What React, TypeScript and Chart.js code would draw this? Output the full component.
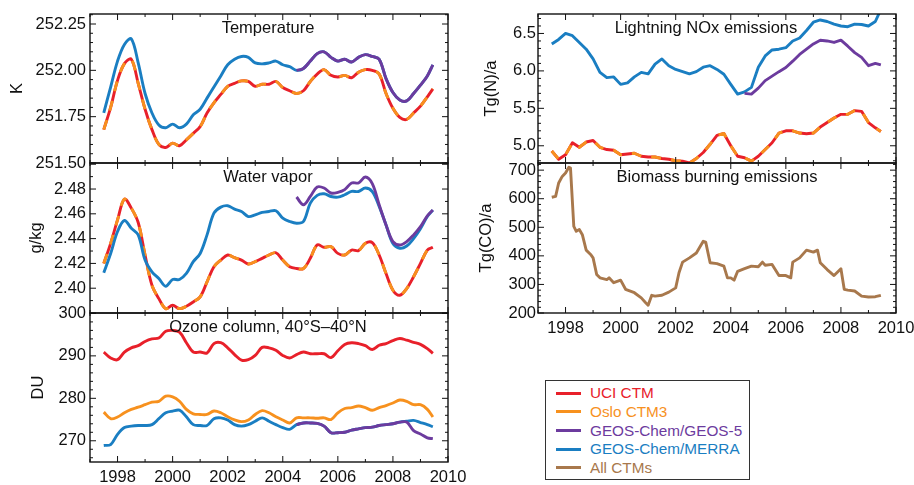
import React, { useEffect, useRef } from "react";
import { Chart, registerables } from "chart.js";

Chart.register(...registerables);

const FONT = '"Liberation Sans", Arial, Helvetica, sans-serif';
Chart.defaults.font.family = FONT;
Chart.defaults.color = "#111";

// ---------------- data ----------------
const years = [
  1997.5, 1997.75, 1998, 1998.25, 1998.5, 1998.75, 1999, 1999.25, 1999.5, 1999.75,
  2000, 2000.25, 2000.5, 2000.75, 2001, 2001.25, 2001.5, 2001.75, 2002, 2002.25,
  2002.5, 2002.75, 2003, 2003.25, 2003.5, 2003.75, 2004, 2004.25, 2004.5, 2004.75,
  2005, 2005.25, 2005.5, 2005.75, 2006, 2006.25, 2006.5, 2006.75, 2007, 2007.25,
  2007.5, 2007.75, 2008, 2008.25, 2008.5, 2008.75, 2009, 2009.25, 2009.45,
];

const N = null;
const pre = [N, N, N, N, N, N, N, N, N, N, N, N, N, N, N, N, N, N, N, N, N, N, N, N, N, N, N, N];

const tempUCI = [
  251.68, 251.8, 251.946, 252.036, 252.06, 251.93, 251.79, 251.68, 251.6, 251.584,
  251.607, 251.593, 251.625, 251.66, 251.696, 251.77, 251.825, 251.87, 251.914, 251.93,
  251.943, 251.94, 251.914, 251.925, 251.925, 251.94, 251.907, 251.89, 251.875, 251.89,
  251.94, 251.98, 252.004, 251.973, 251.964, 251.973, 251.96, 251.99, 252.004, 252.0,
  251.98, 251.875, 251.795, 251.746, 251.735, 251.77, 251.807, 251.857, 251.9,
];
const tempOslo = [
  251.68, 251.8, 251.946, 252.036, 252.06, 251.93, 251.79, 251.68, 251.6, 251.584,
  251.607, 251.593, 251.625, 251.66, 251.696, 251.77, 251.825, 251.87, 251.914, 251.93,
  251.943, 251.94, 251.914, 251.925, 251.925, 251.94, 251.907, 251.89, 251.875, 251.89,
  251.94, 251.98, 252.004, 251.973, 251.964, 251.973, 251.96, 251.99, 252.004, 252.0,
  251.98, 251.875, 251.795, 251.746, 251.735, 251.77, 251.807, 251.857, 251.9,
];
const tempMERRA = [
  251.77, 251.91, 252.05, 252.14, 252.17, 252.04, 251.875, 251.77, 251.705, 251.69,
  251.71, 251.69, 251.71, 251.76, 251.79, 251.85, 251.91, 251.97, 252.03, 252.06,
  252.075, 252.07, 252.04, 252.035, 252.04, 252.05, 252.03, 252.02, 252.0, 252.01,
  252.05, 252.09, 252.1, 252.07, 252.05, 252.06, 252.045, 252.07, 252.085, 252.075,
  252.06, 251.955, 251.88, 251.84, 251.835, 251.875, 251.92, 251.97, 252.03,
];
const tempGEOS5 = [
  ...pre,
  252.0, 252.01, 252.05, 252.09, 252.1, 252.07, 252.05, 252.06, 252.045, 252.07,
  252.085, 252.075, 252.06, 251.955, 251.88, 251.84, 251.835, 251.875, 251.92, 251.97, 252.03,
];

const wvUCI = [
  2.42, 2.4362, 2.4551, 2.4719, 2.4646, 2.453, 2.4268, 2.4024, 2.3916, 2.3835,
  2.3862, 2.3835, 2.3854, 2.3889, 2.393, 2.4051, 2.4173, 2.4227, 2.4268, 2.4246,
  2.4227, 2.4195, 2.4214, 2.4241, 2.4268, 2.4286, 2.4227, 2.4173, 2.4159, 2.4159,
  2.4241, 2.4349, 2.433, 2.4335, 2.4281, 2.4268, 2.4308, 2.4303, 2.4362, 2.4368,
  2.4268, 2.4119, 2.3984, 2.3943, 2.3997, 2.4092, 2.42, 2.4308, 2.433,
];
const wvOslo = [
  2.42, 2.4362, 2.4551, 2.4719, 2.4646, 2.453, 2.4268, 2.4024, 2.3916, 2.3835,
  2.3862, 2.3835, 2.3854, 2.3889, 2.393, 2.4051, 2.4173, 2.4227, 2.4268, 2.4246,
  2.4227, 2.4195, 2.4214, 2.4241, 2.4268, 2.4286, 2.4227, 2.4173, 2.4159, 2.4159,
  2.4241, 2.4349, 2.433, 2.4335, 2.4281, 2.4268, 2.4308, 2.4303, 2.4362, 2.4368,
  2.4268, 2.4119, 2.3984, 2.3943, 2.3997, 2.4092, 2.42, 2.4308, 2.433,
];
const wvMERRA = [
  2.4124, 2.428, 2.4457, 2.4546, 2.4484, 2.443, 2.4227, 2.4132, 2.4078, 2.4016,
  2.407, 2.407, 2.4119, 2.4214, 2.428, 2.443, 2.4605, 2.4654, 2.4665, 2.4638,
  2.4619, 2.4578, 2.4592, 2.4611, 2.4619, 2.4625, 2.4565, 2.4538, 2.4524, 2.4538,
  2.4686, 2.4749, 2.4762, 2.474, 2.4735, 2.4754, 2.4781, 2.478, 2.4808, 2.478,
  2.466, 2.451, 2.436, 2.4322, 2.434, 2.44, 2.448, 2.4578, 2.463,
];
const wvGEOS5 = [
  ...pre,
  2.4735, 2.4673, 2.474, 2.4816, 2.4808, 2.4768, 2.4773, 2.4795, 2.4849, 2.4849,
  2.4897, 2.4843, 2.4673, 2.451, 2.4376, 2.4349, 2.4376, 2.443, 2.4497, 2.4584, 2.463,
];

const ozUCI = [
  290.9, 289.5, 289.1, 290.9, 291.9, 292.4, 293.4, 294.0, 294.2, 295.8,
  296.0, 295.6, 293.1, 290.9, 290.9, 290.7, 292.9, 293.1, 291.9, 290.3,
  289.0, 289.1, 290.1, 292.0, 291.9, 291.3, 290.1, 289.5, 290.3, 290.9,
  290.5, 290.5, 290.5, 289.6, 291.2, 292.7, 293.1, 292.9, 292.4, 291.5,
  292.5, 292.9, 293.6, 294.1, 293.7, 293.2, 292.7, 291.7, 290.6,
];
const ozOslo = [
  276.75, 275.2, 275.6, 276.6, 277.4, 277.9, 278.5, 279.1, 279.3, 280.5,
  280.35, 279.3, 277.4, 276.35, 276.2, 276.2, 277.0, 276.6, 275.65, 274.9,
  274.5, 274.9, 276.2, 277.1, 276.6, 275.65, 274.9, 274.2, 275.4, 275.4,
  275.4, 275.3, 275.4, 275.0, 276.6, 277.6, 277.8, 278.2, 277.8, 277.2,
  277.8, 278.3, 278.9, 279.6, 279.3, 278.5, 278.5, 277.4, 275.6,
];
const ozMERRA = [
  268.9, 269.1, 271.5, 273.1, 273.45, 273.6, 273.6, 273.8, 275.2, 276.6,
  277.0, 277.2, 275.65, 273.8, 273.6, 273.6, 275.2, 275.4, 274.9, 273.8,
  273.45, 273.8, 274.6, 275.4, 274.6, 273.8, 273.1, 272.7, 273.8, 274.2,
  274.2, 274.1, 273.45, 271.9, 271.9, 272.0, 272.5, 272.8, 273.1, 273.2,
  273.6, 273.8, 274.0, 274.4, 274.6, 274.8, 274.3, 273.8, 273.3,
];
const ozGEOS5 = [
  ...pre,
  273.8, 274.2, 274.2, 274.1, 273.45, 271.9, 271.9, 272.0, 272.5, 272.8,
  273.1, 273.2, 273.6, 273.8, 274.0, 274.4, 274.4, 272.4, 271.6, 270.7, 270.5,
];

const lnUCI = [
  4.93, 4.82, 4.88, 5.04, 4.98, 5.05, 5.07, 4.98, 4.95, 4.94,
  4.88, 4.89, 4.9, 4.86, 4.85, 4.85, 4.83, 4.82, 4.8, 4.795,
  4.77, 4.83, 4.91, 5.02, 5.14, 5.165, 5.0, 4.86, 4.84, 4.795,
  4.86, 4.95, 5.04, 5.17, 5.2, 5.2, 5.17, 5.16, 5.17, 5.25,
  5.31, 5.37, 5.42, 5.42, 5.47, 5.46, 5.31, 5.24, 5.19,
];
const lnOslo = [
  4.93, 4.82, 4.88, 5.04, 4.98, 5.05, 5.07, 4.98, 4.95, 4.94,
  4.88, 4.89, 4.9, 4.86, 4.85, 4.85, 4.83, 4.82, 4.8, 4.795,
  4.77, 4.83, 4.91, 5.02, 5.14, 5.165, 5.0, 4.86, 4.84, 4.795,
  4.86, 4.95, 5.04, 5.17, 5.2, 5.2, 5.17, 5.16, 5.17, 5.25,
  5.31, 5.37, 5.42, 5.42, 5.47, 5.46, 5.31, 5.24, 5.19,
];
const lnMERRA = [
  6.36, 6.42, 6.5, 6.47, 6.38, 6.29, 6.16, 5.98, 5.91, 5.92,
  5.82, 5.84, 5.92, 5.98, 5.96, 6.09, 6.16, 6.07, 6.02, 5.99,
  5.96, 5.99, 6.05, 6.07, 6.02, 5.955, 5.82, 5.69, 5.72, 5.78,
  6.05, 6.2, 6.28, 6.29, 6.31, 6.4, 6.44, 6.54, 6.65, 6.68,
  6.66, 6.625, 6.6, 6.59, 6.625, 6.62, 6.6, 6.66, 6.82,
];
const lnGEOS5 = [
  ...pre,
  5.7, 5.69, 5.77, 5.87, 5.93, 5.99, 6.045, 6.13, 6.22, 6.29,
  6.36, 6.41, 6.4, 6.38, 6.41, 6.33, 6.245, 6.18, 6.07, 6.1, 6.08,
];

const bbYears = [
  1997.5, 1997.64, 1997.75, 1997.88, 1998.0, 1998.12, 1998.18, 1998.3, 1998.39, 1998.5,
  1998.61, 1998.75, 1998.91, 1999.0, 1999.13, 1999.25, 1999.5, 1999.58, 1999.75, 2000.0,
  2000.18, 2000.5, 2000.75, 2000.91, 2001.0, 2001.13, 2001.25, 2001.5, 2001.75, 2002.0,
  2002.12, 2002.25, 2002.5, 2002.75, 2003.0, 2003.09, 2003.25, 2003.5, 2003.75, 2003.88,
  2004.0, 2004.12, 2004.25, 2004.5, 2004.75, 2005.0, 2005.15, 2005.25, 2005.5, 2005.75,
  2006.0, 2006.18, 2006.25, 2006.5, 2006.75, 2007.0, 2007.15, 2007.25, 2007.5, 2007.75,
  2008.0, 2008.12, 2008.25, 2008.5, 2008.75, 2009.0, 2009.25, 2009.45,
];
const bbAll = [
  605, 608, 655, 678, 690, 710, 707, 503, 486, 492,
  474, 420, 405, 393, 335, 323, 317, 323, 306, 315,
  283, 271, 253, 236, 227, 262, 259, 262, 273, 288,
  341, 378, 393, 410, 451, 448, 376, 373, 364, 323,
  323, 315, 346, 355, 364, 362, 378, 367, 370, 331,
  331, 323, 378, 393, 420, 413, 420, 376, 352, 331,
  355, 283, 280, 277, 259, 256, 257, 262,
];

const seriesNames = ["UCI CTM", "Oslo CTM3", "GEOS-Chem/GEOS-5", "GEOS-Chem/MERRA", "All CTMs"];
const seriesColors = ["#E8202A", "#F7911E", "#6C3B9E", "#1A7EC2", "#A8784C"];

const xTickLabels = [1998, 2000, 2002, 2004, 2006, 2008, 2010];

const tempTicks = [251.5, 251.75, 252.0, 252.25];
const wvTicks = [2.4, 2.42, 2.44, 2.46, 2.48];
const ozTicks = [270, 280, 290, 300];
const lnTicks = [5.0, 5.5, 6.0, 6.5];
const bbTicks = [200, 300, 400, 500, 600, 700];

// ---------------- layout ----------------
const CW = 960;
const CH = 485;
const XH = 23;

type Series = { xs: number[]; ys: (number | null)[]; color: string; dash?: number[]; order: number };
type PanelSpec = {
  left: number; right: number; top: number; bottom: number; yw: number; tickPad: number;
  ymin: number; ymax: number; yLabels: number[]; dec: number; ytitle: string;
  yMajor: number; yMinor: number; title: string; titleX: number; showX: boolean;
  tension: number; series: Series[];
};

const [cRed, cOrange, cPurple, cBlue, cBrown] = seriesColors;

const standardSeries = (uci: any[], oslo: any[], g5: any[], merra: any[], dashOslo: boolean): Series[] => [
  { xs: years, ys: uci, color: cRed, order: 5 },
  { xs: years, ys: oslo, color: cOrange, dash: dashOslo ? [10, 10] : undefined, order: 4 },
  { xs: years, ys: merra, color: cBlue, order: 3 },
  { xs: years, ys: g5, color: cPurple, order: 2 },
];

const panels: PanelSpec[] = [
  {
    left: 90, right: 448, top: 14, bottom: 163, yw: 82, tickPad: 4,
    ymin: 251.5, ymax: 252.304, yLabels: tempTicks, dec: 2, ytitle: "K",
    yMajor: 0.25, yMinor: 0.05, title: "Temperature", titleX: 268, showX: false, tension: 0.35,
    series: standardSeries(tempUCI, tempOslo, tempGEOS5, tempMERRA, true),
  },
  {
    left: 90, right: 448, top: 163, bottom: 313, yw: 63, tickPad: 4,
    ymin: 2.38, ymax: 2.501, yLabels: wvTicks, dec: 2, ytitle: "g/kg",
    yMajor: 0.02, yMinor: 0.01, title: "Water vapor", titleX: 268, showX: false, tension: 0.35,
    series: standardSeries(wvUCI, wvOslo, wvGEOS5, wvMERRA, true),
  },
  {
    left: 90, right: 448, top: 313, bottom: 462, yw: 61, tickPad: 4,
    ymin: 265, ymax: 300.1, yLabels: ozTicks, dec: 0, ytitle: "DU",
    yMajor: 10, yMinor: 2, title: "Ozone column, 40°S–40°N", titleX: 268, showX: true, tension: 0.35,
    series: standardSeries(ozUCI, ozOslo, ozGEOS5, ozMERRA, false),
  },
  {
    left: 538, right: 896, top: 14, bottom: 163, yw: 56, tickPad: 2,
    ymin: 4.77, ymax: 6.76, yLabels: lnTicks, dec: 1, ytitle: "Tg(N)/a",
    yMajor: 0.5, yMinor: 0.1, title: "Lightning NOx emissions", titleX: 706, showX: false, tension: 0,
    series: standardSeries(lnUCI, lnOslo, lnGEOS5, lnMERRA, true),
  },
  {
    left: 538, right: 896, top: 163, bottom: 313, yw: 61, tickPad: 2,
    ymin: 200, ymax: 725, yLabels: bbTicks, dec: 0, ytitle: "Tg(CO)/a",
    yMajor: 100, yMinor: 20, title: "Biomass burning emissions", titleX: 717, showX: true, tension: 0,
    series: [{ xs: bbYears, ys: bbAll, color: cBrown, order: 1 }],
  },
];

const framePlugin = {
  id: "panelFrame",
  afterDatasetsDraw(chart: any, _args: any, opts: any) {
    const { ctx, chartArea: a } = chart;
    const xs = chart.scales.x;
    const ys = chart.scales.y;
    ctx.save();
    ctx.strokeStyle = "#111";
    ctx.lineWidth = 1;
    ctx.beginPath();
    for (let yr = 1997; yr <= 2010; yr++) {
      const len = yr % 2 === 0 ? 6 : 3;
      const px = xs.getPixelForValue(yr);
      ctx.moveTo(px, a.bottom);
      ctx.lineTo(px, a.bottom - len);
      ctx.moveTo(px, a.top);
      ctx.lineTo(px, a.top + len);
    }
    const k0 = Math.ceil(opts.ymin / opts.minor - 1e-6);
    const k1 = Math.floor(opts.ymax / opts.minor + 1e-6);
    for (let k = k0; k <= k1; k++) {
      const v = k * opts.minor;
      const r = v / opts.major;
      const len = Math.abs(r - Math.round(r)) < 1e-6 ? 6 : 3;
      const py = ys.getPixelForValue(v);
      ctx.moveTo(a.left, py);
      ctx.lineTo(a.left + len, py);
      ctx.moveTo(a.right, py);
      ctx.lineTo(a.right - len, py);
    }
    ctx.stroke();
    ctx.lineWidth = 1.4;
    ctx.strokeRect(a.left, a.top, a.right - a.left, a.bottom - a.top);
    ctx.fillStyle = "#111";
    ctx.font = `16.5px ${FONT}`;
    ctx.textAlign = "center";
    ctx.textBaseline = "alphabetic";
    ctx.fillText(opts.title, opts.titleX, a.top + 19);
    ctx.restore();
  },
};

function buildConfig(p: PanelSpec): any {
  const font = { size: 16.5, family: FONT };
  return {
    type: "line",
    data: {
      datasets: p.series.map((s) => ({
        data: s.xs.map((x, i) => ({ x, y: s.ys[i] })),
        borderColor: s.color,
        backgroundColor: s.color,
        borderWidth: 2.9,
        borderDash: s.dash || [],
        borderJoinStyle: "round",
        pointRadius: 0,
        tension: p.tension,
        fill: false,
        order: s.order,
        clip: 0,
        spanGaps: false,
      })),
    },
    options: {
      animation: false,
      responsive: false,
      events: [],
      layout: {
        padding: {
          left: p.left - p.yw,
          top: p.top,
          right: CW - p.right,
          bottom: CH - p.bottom - (p.showX ? XH : 0),
        },
      },
      plugins: {
        legend: { display: false },
        tooltip: { enabled: false },
        panelFrame: {
          ymin: p.ymin, ymax: p.ymax, major: p.yMajor, minor: p.yMinor,
          title: p.title, titleX: p.titleX,
        },
      },
      scales: {
        x: {
          type: "linear",
          min: 1997,
          max: 2010,
          display: p.showX,
          grid: { display: false, drawTicks: false },
          border: { display: false },
          ticks: {
            font, color: "#111", padding: 6, maxRotation: 0, minRotation: 0, autoSkip: false,
            callback: (v: any) => String(v),
          },
          afterBuildTicks: (s: any) => {
            s.ticks = xTickLabels.map((v) => ({ value: v }));
          },
          afterFit: (s: any) => {
            s.height = p.showX ? XH : 0;
          },
        },
        y: {
          type: "linear",
          min: p.ymin,
          max: p.ymax,
          grid: { display: false, drawTicks: false },
          border: { display: false },
          ticks: {
            font, color: "#111", padding: p.tickPad, autoSkip: false,
            callback: (v: any) => Number(v).toFixed(p.dec),
          },
          afterBuildTicks: (s: any) => {
            s.ticks = p.yLabels.map((v) => ({ value: v }));
          },
          title: { display: true, text: p.ytitle, font, color: "#111", padding: 0 },
          afterFit: (s: any) => {
            s.width = p.yw;
          },
        },
      },
    },
    plugins: [framePlugin],
  };
}

function Panel({ spec }: { spec: PanelSpec }) {
  const ref = useRef<HTMLCanvasElement | null>(null);
  useEffect(() => {
    if (!ref.current) return;
    const chart = new Chart(ref.current, buildConfig(spec));
    return () => chart.destroy();
  }, [spec]);
  return (
    <canvas
      ref={ref}
      width={CW}
      height={CH}
      style={{ position: "absolute", left: 0, top: 0, width: CW, height: CH }}
    />
  );
}

function Legend() {
  return (
    <div
      style={{
        position: "absolute", left: 545, top: 380, width: 205, height: 100,
        border: "1px solid #333", boxSizing: "border-box", background: "#fff",
      }}
    >
      {seriesNames.map((n, i) => (
        <div key={n} style={{ position: "absolute", left: 0, top: 12.3 + i * 18.6 - 9, height: 18, width: "100%" }}>
          <div style={{ position: "absolute", left: 10, top: 7.5, width: 25, height: 3, background: seriesColors[i] }} />
          <div
            style={{
              position: "absolute", left: 44, top: 0, lineHeight: "18px", fontSize: 15.3,
              fontFamily: FONT, color: seriesColors[i], whiteSpace: "nowrap",
            }}
          >
            {n}
          </div>
        </div>
      ))}
    </div>
  );
}

export default function App() {
  return (
    <div
      style={{
        position: "fixed", left: 0, top: 0, width: 914, height: 485,
        overflow: "hidden", background: "#fff",
      }}
    >
      {panels.map((p) => (
        <Panel key={p.title} spec={p} />
      ))}
      <Legend />
    </div>
  );
}
